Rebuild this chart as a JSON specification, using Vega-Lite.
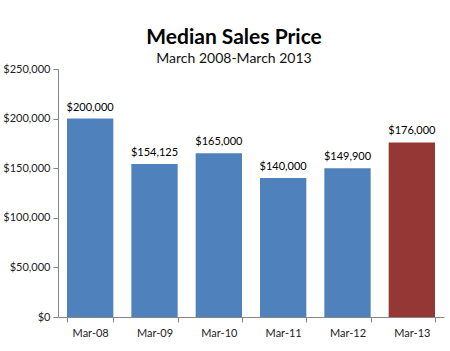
{
  "$schema": "https://vega.github.io/schema/vega-lite/v6.json",
  "width": 386,
  "height": 248,
  "autosize": {"type": "none"},
  "padding": {"left": 58, "top": 69, "right": 6, "bottom": 34},
  "background": "white",
  "title": {
    "text": "Median Sales Price",
    "subtitle": "March 2008-March 2013",
    "font": "Lato",
    "fontSize": 21,
    "fontWeight": "bold",
    "color": "#000000",
    "subtitleFont": "Lato",
    "subtitleFontSize": 14,
    "subtitleColor": "#111111",
    "subtitlePadding": 4,
    "anchor": "middle",
    "frame": "group",
    "dx": -17,
    "offset": -3
  },
  "data": {
    "values": [
      {"month": "Mar-08", "price": 200000, "highlight": "no"},
      {"month": "Mar-09", "price": 154125, "highlight": "no"},
      {"month": "Mar-10", "price": 165000, "highlight": "no"},
      {"month": "Mar-11", "price": 140000, "highlight": "no"},
      {"month": "Mar-12", "price": 149900, "highlight": "no"},
      {"month": "Mar-13", "price": 176000, "highlight": "yes"}
    ]
  },
  "encoding": {
    "x": {
      "field": "month",
      "type": "nominal",
      "sort": null,
      "scale": {"paddingInner": 0.28, "paddingOuter": 0.14},
      "axis": {
        "title": null,
        "labelAngle": 0,
        "labelFont": "Lato",
        "labelFontSize": 11,
        "labelColor": "#222222",
        "labelPadding": 5,
        "domainColor": "#868686",
        "tickColor": "#868686",
        "tickSize": 5,
        "tickBand": "extent"
      }
    },
    "y": {
      "field": "price",
      "type": "quantitative",
      "scale": {"domain": [0, 250000]},
      "axis": {
        "title": null,
        "values": [0, 50000, 100000, 150000, 200000, 250000],
        "format": "$,.0f",
        "grid": false,
        "labelFont": "Lato",
        "labelFontSize": 11,
        "labelColor": "#222222",
        "labelPadding": 3,
        "domainColor": "#868686",
        "tickColor": "#868686",
        "tickSize": 5
      }
    }
  },
  "layer": [
    {
      "mark": {"type": "bar"},
      "encoding": {
        "color": {
          "field": "highlight",
          "type": "nominal",
          "scale": {"domain": ["no", "yes"], "range": ["#4F81BD", "#953735"]},
          "legend": null
        }
      }
    },
    {
      "mark": {"type": "text", "baseline": "bottom", "dy": -6, "font": "Lato", "fontSize": 11, "color": "#000000"},
      "encoding": {
        "text": {"field": "price", "type": "quantitative", "format": "$,.0f"}
      }
    }
  ],
  "config": {"view": {"stroke": null}}
}
